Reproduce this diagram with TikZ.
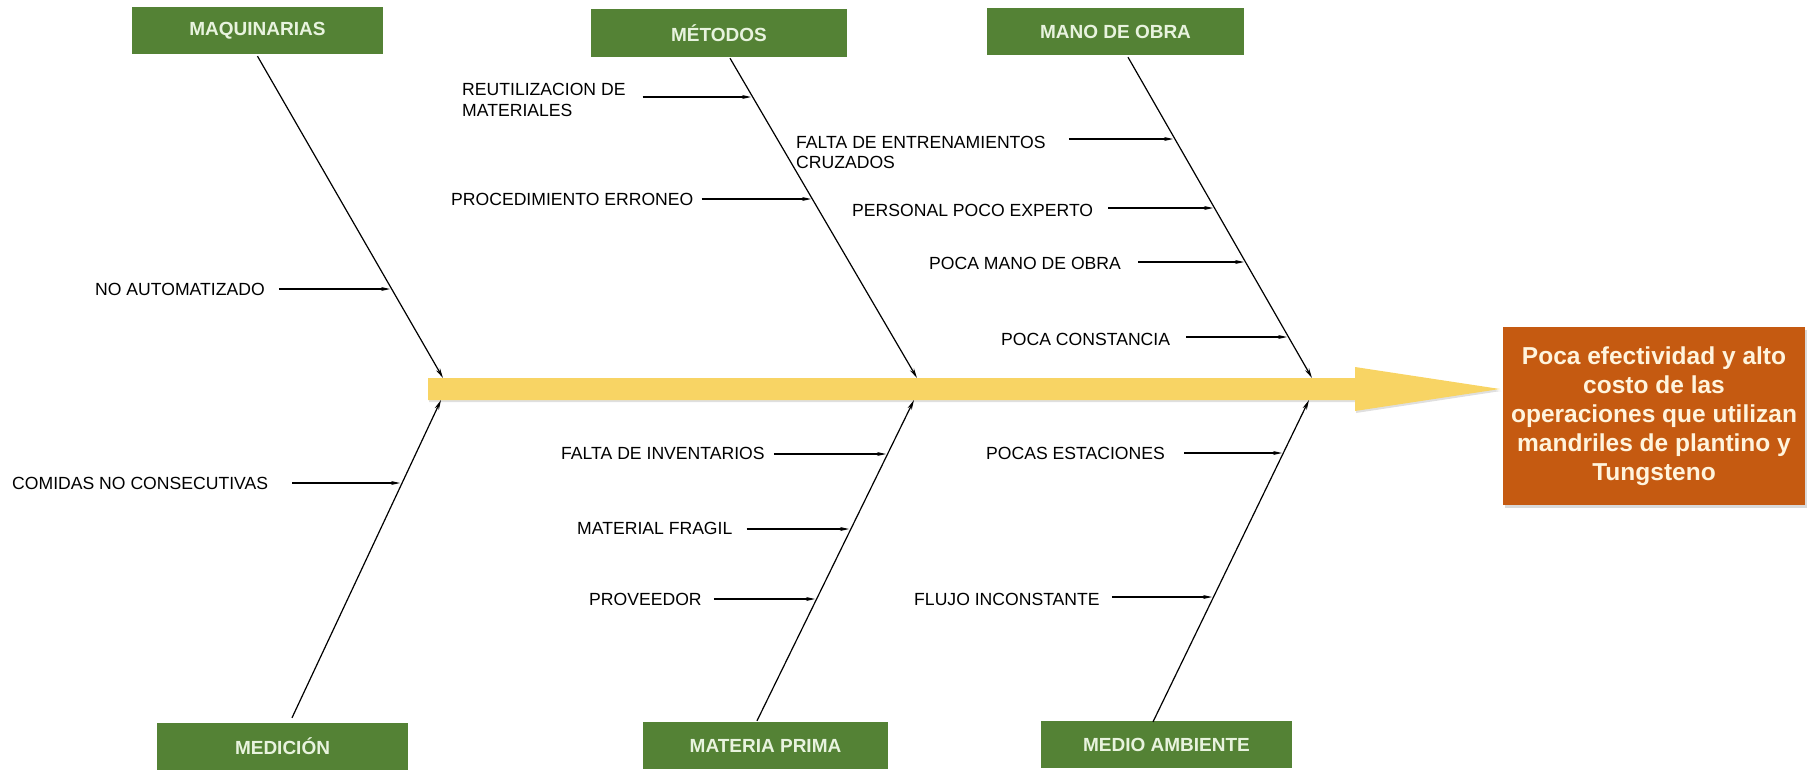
\documentclass[tikz,border=0pt]{standalone}
\usepackage{fontspec}
\setmainfont{Liberation Sans}
\usetikzlibrary{arrows.meta,shadows,calc}
\definecolor{catgreen}{HTML}{548235}
\definecolor{cattext}{HTML}{E8F3DE}
\definecolor{spineyellow}{HTML}{F8D464}
\definecolor{effectorange}{HTML}{C55A11}
\definecolor{effecttext}{HTML}{FFF4DD}
\begin{document}
\begin{tikzpicture}[x=1pt,y=-1pt,
  cat/.style={fill=catgreen, text=cattext, font=\fontsize{19}{22}\selectfont\bfseries,
              minimum width=251pt, minimum height=47pt, inner sep=0pt},
  cause/.style={font=\fontsize{17.6}{21}\selectfont, anchor=west, inner sep=0pt, align=left},
  bone/.style={line width=1.2pt, -{Stealth[length=10pt,width=4.5pt]}},
  sub/.style={line width=1.1pt, -{Stealth[length=9pt,width=4pt]}},
  effect/.style={fill=effectorange, text=effecttext, font=\fontsize{24.5}{29}\selectfont\bfseries,
                 minimum width=302pt, minimum height=178pt, inner sep=0pt, align=center,
                 drop shadow={opacity=0.3, shadow xshift=2pt, shadow yshift=-3pt}},
]
\useasboundingbox (0,0) rectangle (1819,769);

% spine
\path[fill=spineyellow, drop shadow={opacity=0.25, shadow xshift=1pt, shadow yshift=-2pt}]
  (428,378) -- (1355,378) -- (1355,367) -- (1500,389) -- (1355,411) -- (1355,400) -- (428,400) -- cycle;

% effect
\node[effect] (eff) at (1654,416) {Poca efectividad y alto\\costo de las\\operaciones que utilizan\\mandriles de plantino y\\Tungsteno};

% categories
\node[cat] (mq) at (257.5,30.5) {MAQUINARIAS};
\node[cat, minimum width=256pt, minimum height=48pt] (mt) at (719,33) {MÉTODOS};
\node[cat, minimum width=257pt] (mo) at (1115.5,31.5) {MANO DE OBRA};
\node[cat] (md) at (282.5,746.5) {MEDICIÓN};
\node[cat, minimum width=245pt] (mp) at (765.5,745.5) {MATERIA PRIMA};
\node[cat] (ma) at (1166.5,744.5) {MEDIO AMBIENTE};

% bone ends on spine
\coordinate (s1) at (443,378);
\coordinate (s2) at (917,378);
\coordinate (s3) at (1312,378);
\coordinate (s4) at (441,400);
\coordinate (s5) at (914,400);
\coordinate (s6) at (1309,400);

\draw[bone] ($(mq.south)+(0,2)$) -- (s1);
\draw[bone] ($(mt.south)+(11,1)$) -- (s2);
\draw[bone] ($(mo.south)+(12.5,2)$) -- (s3);
\draw[bone] ($(md.north)+(9.5,-5)$) -- (s4);
\draw[bone] ($(mp.north)+(-8.5,-1)$) -- (s5);
\draw[bone] ($(ma.north)+(-13.5,1)$) -- (s6);

% causes
\node[cause] (c1) at (95,289) {NO AUTOMATIZADO};
\coordinate (t1) at (390,289);
\draw[sub] ($(c1.east |- t1)+(14,0)$) -- (t1);

\node[cause, text depth=0pt] (c2) at (462,99.5) {REUTILIZACION DE\\MATERIALES};
\coordinate (t2) at (751,97);
\draw[sub] ($(c2.east |- t2)+(17,0)$) -- (t2);

\node[cause] (c3) at (451,199) {PROCEDIMIENTO ERRONEO};
\coordinate (t3) at (811,199);
\draw[sub] ($(c3.east |- t3)+(8,0)$) -- (t3);

\node[cause, font=\fontsize{17.6}{20}\selectfont] (c4) at (796,152) {FALTA DE ENTRENAMIENTOS\\CRUZADOS};
\coordinate (t4) at (1173,139);
\draw[sub] ($(c4.east |- t4)+(23,0)$) -- (t4);

\node[cause] (c5) at (852,210) {PERSONAL POCO EXPERTO};
\coordinate (t5) at (1213,208);
\draw[sub] ($(c5.east |- t5)+(15,0)$) -- (t5);

\node[cause] (c6) at (929,263) {POCA MANO DE OBRA};
\coordinate (t6) at (1244,262);
\draw[sub] ($(c6.east |- t6)+(17,0)$) -- (t6);

\node[cause] (c7) at (1001,339) {POCA CONSTANCIA};
\coordinate (t7) at (1287,337);
\draw[sub] ($(c7.east |- t7)+(16,0)$) -- (t7);

\node[cause] (c8) at (12,483) {COMIDAS NO CONSECUTIVAS};
\coordinate (t8) at (400,483);
\draw[sub] ($(c8.east |- t8)+(24,0)$) -- (t8);

\node[cause] (c9) at (561,453) {FALTA DE INVENTARIOS};
\coordinate (t9) at (886,454);
\draw[sub] ($(c9.east |- t9)+(9,0)$) -- (t9);

\node[cause] (c10) at (577,528) {MATERIAL FRAGIL};
\coordinate (t10) at (849,529);
\draw[sub] ($(c10.east |- t10)+(14,0)$) -- (t10);

\node[cause] (c11) at (589,599) {PROVEEDOR};
\coordinate (t11) at (815,599);
\draw[sub] ($(c11.east |- t11)+(12,0)$) -- (t11);

\node[cause] (c12) at (986,453) {POCAS ESTACIONES};
\coordinate (t12) at (1282,453);
\draw[sub] ($(c12.east |- t12)+(19,0)$) -- (t12);

\node[cause] (c13) at (914,599) {FLUJO INCONSTANTE};
\coordinate (t13) at (1212,597);
\draw[sub] ($(c13.east |- t13)+(12,0)$) -- (t13);
\end{tikzpicture}
\end{document}
